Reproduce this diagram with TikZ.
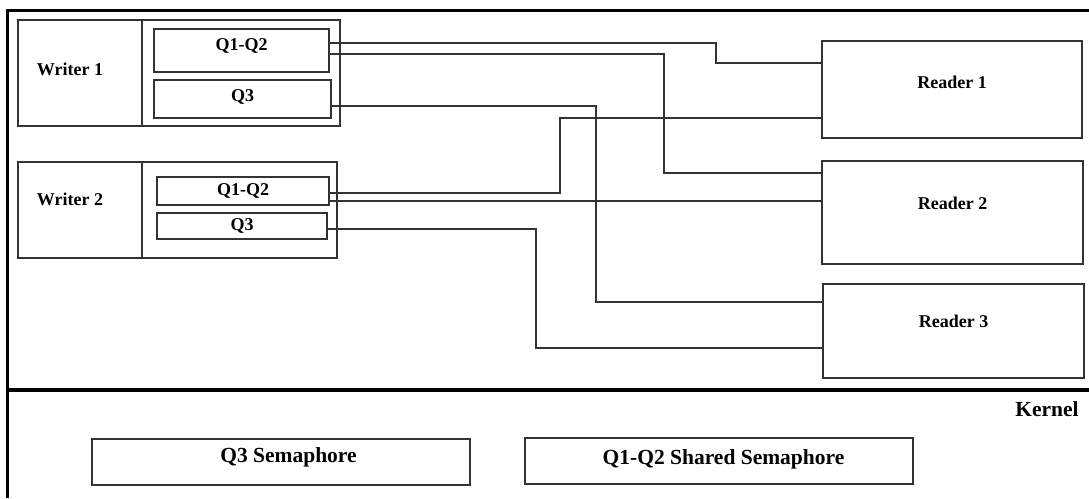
\documentclass[tikz,border=0pt]{standalone}
\usepackage{fontspec}
\setmainfont{Liberation Serif}
\tikzset{
  box/.style={draw=black!80,line width=1.8pt,inner sep=0pt},
  wire/.style={draw=black!80,line width=1.7pt},
  frame/.style={line width=3pt},
  lbl/.style={font=\fontsize{18}{20}\selectfont\bfseries},
  klbl/.style={font=\fontsize{21.5}{24}\selectfont\bfseries}
}

\begin{document}
\begin{tikzpicture}[x=1pt,y=-1pt]
  \useasboundingbox (0,0) rectangle (1089,498);

  % user space / kernel frame
  \draw[frame] (1089,10) -- (7,10) -- (7,498);
  \draw[frame,line width=3.5pt] (7,390) -- (1089,390);

  % writers
  \node[box,minimum width=322,minimum height=106] (w1) at (179,73) {};
  \draw[box] ([xshift=125pt]w1.north west) -- ([xshift=125pt]w1.south west);
  \node[lbl] (w1name) at (70,69) {Writer 1};
  \node[box,minimum width=175,minimum height=43,label={[lbl,yshift=4.5pt]center:Q1-Q2}] (w1q12) at (241.5,50.5) {};
  \node[box,minimum width=177,minimum height=38,label={[lbl,yshift=2.5pt]center:Q3}] (w1q3) at (242.5,99) {};

  \node[box,minimum width=319,minimum height=96] (w2) at (177.5,210) {};
  \draw[box] ([xshift=125pt]w2.north west) -- ([xshift=125pt]w2.south west);
  \node[lbl] (w2name) at (70,199) {Writer 2};
  \node[box,minimum width=172,minimum height=28,label={[lbl]center:Q1-Q2}] (w2q12) at (243,191) {};
  \node[box,minimum width=170,minimum height=26,label={[lbl]center:Q3}] (w2q3) at (242,226) {};

  % readers
  \foreach \n/\x/\y/\w/\h/\s in {1/952/89.5/260/97/7.5, 2/952.5/212.5/261/103/9.5, 3/953.5/331/261/94/10}
    \node[box,minimum width=\w,minimum height=\h,label={[lbl,yshift=\s pt]center:Reader \n}] (r\n) at (\x,\y) {};

  % queues to readers
  \draw[wire] ([yshift=7.5pt]w1q12.east) -- ++(386,0) |- ([yshift=26.5pt]r1.west);
  \draw[wire] ([yshift=-3.5pt]w1q12.east) -- ++(334,0) |- ([yshift=39.5pt]r2.west);
  \draw[wire] ([yshift=-7pt]w1q3.east) -- ++(264,0) |- ([yshift=29pt]r3.west);
  \draw[wire] ([yshift=-2pt]w2q12.east) -- ++(230,0) |- ([yshift=-28.5pt]r1.west);
  \draw[wire] ([yshift=-10pt]w2q12.east) -- ++(200,0) |- ([yshift=11.5pt]r2.west);
  \draw[wire] ([yshift=-3pt]w2q3.east) -- ++(208,0) |- ([yshift=-17pt]r3.west);

  % kernel
  \node[klbl] (kernel) at (1047,409) {Kernel};
  \node[box,minimum width=378,minimum height=46,label={[klbl,xshift=7.5pt,yshift=5pt]center:Q3 Semaphore}] (q3sem) at (281,462) {};
  \node[box,minimum width=388,minimum height=46,label={[klbl,xshift=4.5pt,yshift=2pt]center:Q1-Q2 Shared Semaphore}] (q12sem) at (719,461) {};
\end{tikzpicture}
\end{document}
